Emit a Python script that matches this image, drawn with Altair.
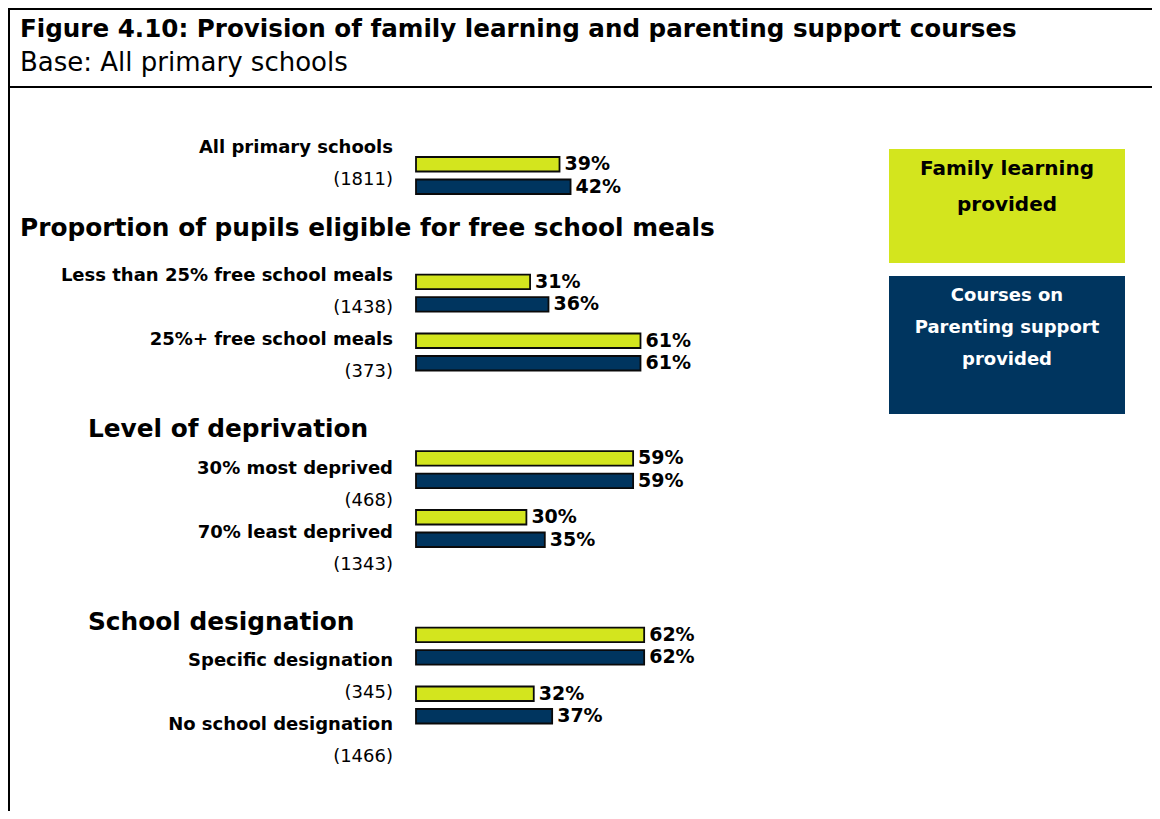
import altair as alt
import pandas as pd

# ---------------- data ----------------
title_text = "Figure 4.10: Provision of family learning and parenting support courses"
subtitle_text = "Base: All primary schools"

categories = [
    "All primary schools",
    "Less than 25% free school meals",
    "25%+ free school meals",
    "30% most deprived",
    "70% least deprived",
    "Specific designation",
    "No school designation",
]
bases = ["(1811)", "(1438)", "(373)", "(468)", "(1343)", "(345)", "(1466)"]
family_learning = [39, 31, 61, 59, 30, 62, 32]
parenting_support = [42, 36, 61, 59, 35, 62, 37]

headings = [
    "Proportion of pupils eligible for free school meals",
    "Level of deprivation",
    "School designation",
]
series = ["Family learning provided", "Courses on Parenting support provided"]
legend_labels = ["Family learning\nprovided", "Courses on\nParenting support\nprovided"]
colors = ["#D3E51E", "#00355F"]

# row order (headings occupy their own rows)
row_order = [
    categories[0], headings[0],
    categories[1], categories[2], headings[1],
    categories[3], categories[4], headings[2],
    categories[5], categories[6],
]

FONT = "DejaVu Sans"
W, H = 1144, 803

# ---------------- tables ----------------
bars = pd.DataFrame(
    [{"row": c, "series": series[0], "value": v, "label": f"{v}%"} for c, v in zip(categories, family_learning)]
    + [{"row": c, "series": series[1], "value": v, "label": f"{v}%"} for c, v in zip(categories, parenting_support)]
)
labels = pd.DataFrame({"row": categories, "base": bases})
heads = pd.DataFrame({"row": headings, "idx": [0, 1, 2]})
legend = pd.DataFrame({"series": series, "text": legend_labels})
one = pd.DataFrame({"k": [0]})

x_scale = alt.Scale(domain=[0, 100], range=[408, 776])
bar_y = alt.Scale(domain=row_order, range=[138.1, 726.4], paddingInner=0, paddingOuter=0)
lab_y = alt.Scale(type="point", domain=row_order, range=[139.6, 717.3], padding=0)
off_scale = alt.Scale(domain=series, paddingInner=0.356, paddingOuter=0.485)
col_scale = alt.Scale(domain=series, range=colors)

# ---------------- frame ----------------
frame_top = alt.Chart(one).mark_rule(color="black", strokeWidth=2).encode(
    x=alt.value(0), x2=alt.value(W), y=alt.value(1))
frame_sep = alt.Chart(one).mark_rule(color="black", strokeWidth=2).encode(
    x=alt.value(0), x2=alt.value(W), y=alt.value(79))
frame_left = alt.Chart(one).mark_rule(color="black", strokeWidth=2).encode(
    x=alt.value(1), y=alt.value(0), y2=alt.value(H))

title = alt.Chart(one).mark_text(
    text=title_text, font=FONT, fontSize=24.6, fontWeight="bold", align="left", baseline="alphabetic", color="black"
).encode(x=alt.value(12), y=alt.value(29))
subtitle = alt.Chart(one).mark_text(
    text=subtitle_text, font=FONT, fontSize=26, align="left", baseline="alphabetic", color="black"
).encode(x=alt.value(12), y=alt.value(63))

# ---------------- bars ----------------
bar_layer = alt.Chart(bars).mark_bar(stroke="#0a0a0a", strokeWidth=1.8).encode(
    x=alt.X("value:Q", scale=x_scale, axis=None),
    y=alt.Y("row:N", scale=bar_y, axis=None),
    yOffset=alt.YOffset("series:N", scale=off_scale),
    color=alt.Color("series:N", scale=col_scale, legend=None),
)

val_fl = alt.Chart(bars).transform_filter(alt.datum.series == series[0]).mark_text(
    font=FONT, fontSize=19, fontWeight="bold", align="left", baseline="middle", dx=5, dy=-11.25, color="black"
).encode(
    x=alt.X("value:Q", scale=x_scale, axis=None),
    y=alt.Y("row:N", scale=bar_y, axis=None),
    text="label:N",
)
val_ps = alt.Chart(bars).transform_filter(alt.datum.series == series[1]).mark_text(
    font=FONT, fontSize=19, fontWeight="bold", align="left", baseline="middle", dx=5, dy=11.25, color="black"
).encode(
    x=alt.X("value:Q", scale=x_scale, axis=None),
    y=alt.Y("row:N", scale=bar_y, axis=None),
    text="label:N",
)

# ---------------- category labels ----------------
name_layer = alt.Chart(labels).mark_text(
    font=FONT, fontSize=18, fontWeight="bold", align="right", baseline="middle", color="black"
).encode(x=alt.value(385), y=alt.Y("row:N", scale=lab_y, axis=None), text="row:N")
base_layer = alt.Chart(labels).mark_text(
    font=FONT, fontSize=18, align="right", baseline="middle", dy=32, color="black"
).encode(x=alt.value(385), y=alt.Y("row:N", scale=lab_y, axis=None), text="base:N")

head1 = alt.Chart(heads).transform_filter(alt.datum.idx == 0).mark_text(
    font=FONT, fontSize=24.8, fontWeight="bold", align="left", baseline="middle", dy=17, color="black"
).encode(x=alt.value(12), y=alt.Y("row:N", scale=lab_y, axis=None), text="row:N")
head23 = alt.Chart(heads).transform_filter(alt.datum.idx > 0).mark_text(
    font=FONT, fontSize=24.8, fontWeight="bold", align="left", baseline="middle", dy=26, color="black"
).encode(x=alt.value(80), y=alt.Y("row:N", scale=lab_y, axis=None), text="row:N")

# ---------------- legend boxes ----------------
leg_box1 = alt.Chart(legend).transform_filter(alt.datum.series == series[0]).mark_rect(color=colors[0]).encode(
    x=alt.value(881), x2=alt.value(1117), y=alt.value(141), y2=alt.value(255))
leg_box2 = alt.Chart(legend).transform_filter(alt.datum.series == series[1]).mark_rect(color=colors[1]).encode(
    x=alt.value(881), x2=alt.value(1117), y=alt.value(268), y2=alt.value(406))
leg_txt1 = alt.Chart(legend).transform_filter(alt.datum.series == series[0]).mark_text(
    font=FONT, fontSize=20, fontWeight="bold", align="center", baseline="middle", lineBreak="\n",
    lineHeight=36, color="black"
).encode(x=alt.value(999), y=alt.value(161), text="text:N")
leg_txt2 = alt.Chart(legend).transform_filter(alt.datum.series == series[1]).mark_text(
    font=FONT, fontSize=18, fontWeight="bold", align="center", baseline="middle", lineBreak="\n",
    lineHeight=32, color="white"
).encode(x=alt.value(999), y=alt.value(287.5), text="text:N")

chart = alt.layer(
    frame_top, frame_sep, frame_left, title, subtitle,
    bar_layer, val_fl, val_ps,
    name_layer, base_layer, head1, head23,
    leg_box1, leg_box2, leg_txt1, leg_txt2,
).resolve_scale(y="independent", x="independent", color="independent").properties(
    width=W, height=H, padding=0, autosize=alt.AutoSizeParams(type="none"),
    background="white",
).configure_view(stroke=None)

chart.save("out.html", embed_options={"renderer": "svg", "actions": False})
